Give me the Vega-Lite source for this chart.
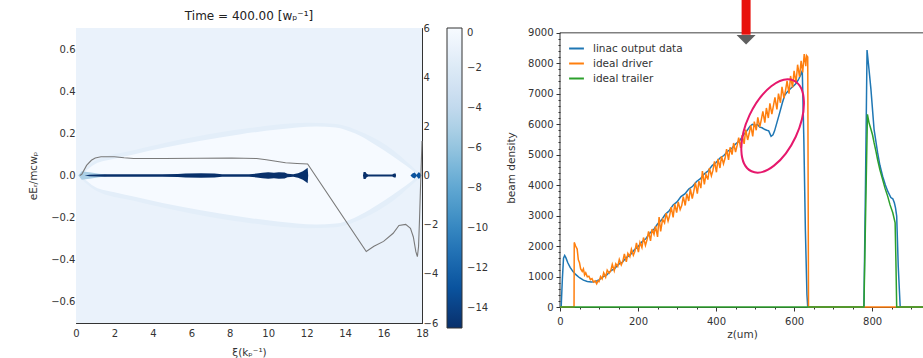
{
  "$schema": "https://vega.github.io/schema/vega-lite/v6.json",
  "padding": {"left": 28, "top": -5, "right": 0, "bottom": 0},
  "background": "white",
  "config": {
    "font": "DejaVu Sans",
    "axis": {"labelFont": "DejaVu Sans", "titleFont": "DejaVu Sans", "labelColor": "#333", "titleColor": "#333", "domainColor": "#333", "tickColor": "#333", "labelFontSize": 10, "titleFontSize": 10.5, "titleFontWeight": "normal", "grid": false, "labelOverlap": false, "tickCount": 100},
    "legend": {"labelFont": "DejaVu Sans", "labelColor": "#333"},
    "title": {"font": "DejaVu Sans", "fontWeight": "normal", "fontSize": 12, "color": "#222"}
  },
  "datasets": {
    "bg": [{"x0": 0, "x1": 18, "y0": -0.7, "y1": 0.7, "n": -1}],
    "sheath": [
      {"xi": 0.2, "top": 0.01, "bot": -0.01, "n": -1.5},
      {"xi": 1, "top": 0.07, "bot": -0.07, "n": -1.5},
      {"xi": 3, "top": 0.12, "bot": -0.12, "n": -1.5},
      {"xi": 6, "top": 0.18, "bot": -0.18, "n": -1.5},
      {"xi": 9, "top": 0.225, "bot": -0.225, "n": -1.5},
      {"xi": 12, "top": 0.25, "bot": -0.25, "n": -1.5},
      {"xi": 13.5, "top": 0.245, "bot": -0.245, "n": -1.5},
      {"xi": 15, "top": 0.2, "bot": -0.2, "n": -1.5},
      {"xi": 16.5, "top": 0.12, "bot": -0.12, "n": -1.5},
      {"xi": 17.4, "top": 0.05, "bot": -0.05, "n": -1.5},
      {"xi": 17.9, "top": 0.008, "bot": -0.008, "n": -1.5}
    ],
    "bubble": [
      {"xi": 0.3, "top": 0.005, "bot": -0.005, "n": -0.1},
      {"xi": 1, "top": 0.055, "bot": -0.055, "n": -0.1},
      {"xi": 2, "top": 0.08, "bot": -0.08, "n": -0.1},
      {"xi": 3, "top": 0.1, "bot": -0.1, "n": -0.1},
      {"xi": 4.5, "top": 0.13, "bot": -0.13, "n": -0.1},
      {"xi": 6.5, "top": 0.165, "bot": -0.165, "n": -0.1},
      {"xi": 8.5, "top": 0.195, "bot": -0.195, "n": -0.1},
      {"xi": 10.5, "top": 0.218, "bot": -0.218, "n": -0.1},
      {"xi": 12.5, "top": 0.232, "bot": -0.232, "n": -0.1},
      {"xi": 13.5, "top": 0.228, "bot": -0.228, "n": -0.1},
      {"xi": 14.5, "top": 0.2, "bot": -0.2, "n": -0.1},
      {"xi": 15.5, "top": 0.15, "bot": -0.15, "n": -0.1},
      {"xi": 16.5, "top": 0.09, "bot": -0.09, "n": -0.1},
      {"xi": 17.2, "top": 0.045, "bot": -0.045, "n": -0.1},
      {"xi": 17.75, "top": 0.006, "bot": -0.006, "n": -0.1}
    ],
    "beams": [
      {"part": "glow", "xi": 0.12, "top": 0, "bot": 0, "n": -5},
      {"part": "glow", "xi": 0.3, "top": 0.02, "bot": -0.02, "n": -5},
      {"part": "glow", "xi": 0.7, "top": 0.016, "bot": -0.016, "n": -5},
      {"part": "glow", "xi": 1.2, "top": 0.008, "bot": -0.008, "n": -5},
      {"part": "glow", "xi": 1.6, "top": 0.003, "bot": -0.003, "n": -5},
      {"part": "driver", "xi": 0.45, "top": 0, "bot": 0, "n": -15},
      {"part": "driver", "xi": 0.7, "top": 0.004, "bot": -0.004, "n": -15},
      {"part": "driver", "xi": 1.5, "top": 0.0055, "bot": -0.0055, "n": -15},
      {"part": "driver", "xi": 3.0, "top": 0.006, "bot": -0.006, "n": -15},
      {"part": "driver", "xi": 4.5, "top": 0.006, "bot": -0.006, "n": -15},
      {"part": "driver", "xi": 5.3, "top": 0.007, "bot": -0.007, "n": -15},
      {"part": "driver", "xi": 5.7, "top": 0.0095, "bot": -0.0095, "n": -15},
      {"part": "driver", "xi": 6.5, "top": 0.0105, "bot": -0.0105, "n": -15},
      {"part": "driver", "xi": 7.2, "top": 0.0095, "bot": -0.0095, "n": -15},
      {"part": "driver", "xi": 7.6, "top": 0.0065, "bot": -0.0065, "n": -15},
      {"part": "driver", "xi": 9.0, "top": 0.0065, "bot": -0.0065, "n": -15},
      {"part": "driver", "xi": 9.4, "top": 0.009, "bot": -0.009, "n": -15},
      {"part": "driver", "xi": 9.7, "top": 0.013, "bot": -0.013, "n": -15},
      {"part": "driver", "xi": 10.0, "top": 0.015, "bot": -0.015, "n": -15},
      {"part": "driver", "xi": 10.3, "top": 0.013, "bot": -0.013, "n": -15},
      {"part": "driver", "xi": 10.55, "top": 0.016, "bot": -0.016, "n": -15},
      {"part": "driver", "xi": 10.85, "top": 0.014, "bot": -0.014, "n": -15},
      {"part": "driver", "xi": 11.0, "top": 0.008, "bot": -0.008, "n": -15},
      {"part": "driver", "xi": 11.3, "top": 0.0065, "bot": -0.0065, "n": -15},
      {"part": "driver", "xi": 11.55, "top": 0.011, "bot": -0.011, "n": -15},
      {"part": "driver", "xi": 11.8, "top": 0.02, "bot": -0.02, "n": -15},
      {"part": "driver", "xi": 11.95, "top": 0.03, "bot": -0.03, "n": -15},
      {"part": "driver", "xi": 12.05, "top": 0.037, "bot": -0.037, "n": -15},
      {"part": "driver", "xi": 12.08, "top": 0, "bot": 0, "n": -15},
      {"part": "trailer", "xi": 14.93, "top": 0, "bot": 0, "n": -15},
      {"part": "trailer", "xi": 14.96, "top": 0.017, "bot": -0.017, "n": -15},
      {"part": "trailer", "xi": 15.06, "top": 0.017, "bot": -0.017, "n": -15},
      {"part": "trailer", "xi": 15.12, "top": 0.008, "bot": -0.008, "n": -15},
      {"part": "trailer", "xi": 15.2, "top": 0.005, "bot": -0.005, "n": -15},
      {"part": "trailer", "xi": 16.45, "top": 0.005, "bot": -0.005, "n": -15},
      {"part": "trailer", "xi": 16.55, "top": 0.01, "bot": -0.01, "n": -15},
      {"part": "trailer", "xi": 16.63, "top": 0.01, "bot": -0.01, "n": -15},
      {"part": "trailer", "xi": 16.65, "top": 0, "bot": 0, "n": -15},
      {"part": "spike", "xi": 17.4, "top": 0, "bot": 0, "n": -13},
      {"part": "spike", "xi": 17.5, "top": 0.01, "bot": -0.01, "n": -13},
      {"part": "spike", "xi": 17.62, "top": 0.014, "bot": -0.014, "n": -13},
      {"part": "spike", "xi": 17.72, "top": 0.004, "bot": -0.004, "n": -13},
      {"part": "spike", "xi": 17.82, "top": 0.016, "bot": -0.016, "n": -13},
      {"part": "spike", "xi": 17.9, "top": 0.012, "bot": -0.012, "n": -13},
      {"part": "spike", "xi": 17.97, "top": 0, "bot": 0, "n": -13}
    ],
    "ez": [
      {"xi": 0.2, "ez": 0}, {"xi": 0.3, "ez": 0.05}, {"xi": 0.55, "ez": 0.41}, {"xi": 0.8, "ez": 0.62},
      {"xi": 1.0, "ez": 0.71}, {"xi": 1.3, "ez": 0.76}, {"xi": 2.0, "ez": 0.76}, {"xi": 2.5, "ez": 0.72},
      {"xi": 3.0, "ez": 0.69}, {"xi": 4.6, "ez": 0.69}, {"xi": 6.4, "ez": 0.7}, {"xi": 8.1, "ez": 0.71},
      {"xi": 9.4, "ez": 0.69}, {"xi": 9.9, "ez": 0.64}, {"xi": 10.4, "ez": 0.58}, {"xi": 10.9, "ez": 0.52},
      {"xi": 11.5, "ez": 0.49}, {"xi": 12.05, "ez": 0.47}, {"xi": 15.1, "ez": -3.09}, {"xi": 15.5, "ez": -2.88},
      {"xi": 16.0, "ez": -2.68}, {"xi": 16.5, "ez": -2.35}, {"xi": 16.8, "ez": -2.03}, {"xi": 17.15, "ez": -1.99},
      {"xi": 17.4, "ez": -2.15}, {"xi": 17.55, "ez": -2.5}, {"xi": 17.68, "ez": -3.1}, {"xi": 17.76, "ez": -3.3},
      {"xi": 17.82, "ez": -2.9}, {"xi": 17.87, "ez": -1.8}, {"xi": 17.93, "ez": -0.3}, {"xi": 18.0, "ez": 1.4}
    ],
    "beam": [
      {"z": 0, "v": 0, "s": "linac output data"}, {"z": 3, "v": 0, "s": "linac output data"}, {"z": 6, "v": 900, "s": "linac output data"},
      {"z": 9, "v": 1600, "s": "linac output data"}, {"z": 12, "v": 1690, "s": "linac output data"}, {"z": 15, "v": 1620, "s": "linac output data"},
      {"z": 20, "v": 1450, "s": "linac output data"}, {"z": 26, "v": 1300, "s": "linac output data"}, {"z": 33, "v": 1170, "s": "linac output data"},
      {"z": 40, "v": 1070, "s": "linac output data"}, {"z": 50, "v": 960, "s": "linac output data"}, {"z": 60, "v": 880, "s": "linac output data"},
      {"z": 70, "v": 840, "s": "linac output data"}, {"z": 80, "v": 820, "s": "linac output data"}, {"z": 88, "v": 830, "s": "linac output data"},
      {"z": 95, "v": 860, "s": "linac output data"}, {"z": 100, "v": 890, "s": "linac output data"}, {"z": 110, "v": 990, "s": "linac output data"},
      {"z": 120, "v": 1050, "s": "linac output data"}, {"z": 130, "v": 1190, "s": "linac output data"}, {"z": 140, "v": 1260, "s": "linac output data"},
      {"z": 150, "v": 1400, "s": "linac output data"}, {"z": 160, "v": 1470, "s": "linac output data"}, {"z": 170, "v": 1620, "s": "linac output data"},
      {"z": 180, "v": 1710, "s": "linac output data"}, {"z": 190, "v": 1870, "s": "linac output data"}, {"z": 200, "v": 1980, "s": "linac output data"},
      {"z": 210, "v": 2140, "s": "linac output data"}, {"z": 220, "v": 2240, "s": "linac output data"}, {"z": 230, "v": 2420, "s": "linac output data"},
      {"z": 240, "v": 2540, "s": "linac output data"}, {"z": 250, "v": 2720, "s": "linac output data"}, {"z": 260, "v": 2850, "s": "linac output data"},
      {"z": 270, "v": 3040, "s": "linac output data"}, {"z": 280, "v": 3160, "s": "linac output data"}, {"z": 290, "v": 3350, "s": "linac output data"},
      {"z": 300, "v": 3450, "s": "linac output data"}, {"z": 310, "v": 3620, "s": "linac output data"}, {"z": 320, "v": 3710, "s": "linac output data"},
      {"z": 330, "v": 3870, "s": "linac output data"}, {"z": 340, "v": 3960, "s": "linac output data"}, {"z": 350, "v": 4120, "s": "linac output data"},
      {"z": 360, "v": 4210, "s": "linac output data"}, {"z": 370, "v": 4370, "s": "linac output data"}, {"z": 380, "v": 4470, "s": "linac output data"},
      {"z": 390, "v": 4640, "s": "linac output data"}, {"z": 400, "v": 4740, "s": "linac output data"}, {"z": 410, "v": 4890, "s": "linac output data"},
      {"z": 420, "v": 4970, "s": "linac output data"}, {"z": 430, "v": 5110, "s": "linac output data"}, {"z": 440, "v": 5200, "s": "linac output data"},
      {"z": 450, "v": 5350, "s": "linac output data"}, {"z": 460, "v": 5450, "s": "linac output data"}, {"z": 470, "v": 5640, "s": "linac output data"},
      {"z": 480, "v": 5800, "s": "linac output data"}, {"z": 487, "v": 5930, "s": "linac output data"}, {"z": 493, "v": 5990, "s": "linac output data"},
      {"z": 500, "v": 5950, "s": "linac output data"}, {"z": 506, "v": 5990, "s": "linac output data"}, {"z": 512, "v": 5900, "s": "linac output data"},
      {"z": 518, "v": 5880, "s": "linac output data"}, {"z": 524, "v": 5830, "s": "linac output data"}, {"z": 530, "v": 5800, "s": "linac output data"},
      {"z": 535, "v": 5780, "s": "linac output data"}, {"z": 541, "v": 5600, "s": "linac output data"}, {"z": 546, "v": 5650, "s": "linac output data"},
      {"z": 550, "v": 5780, "s": "linac output data"}, {"z": 556, "v": 6050, "s": "linac output data"}, {"z": 563, "v": 6370, "s": "linac output data"},
      {"z": 570, "v": 6700, "s": "linac output data"}, {"z": 576, "v": 6950, "s": "linac output data"}, {"z": 582, "v": 7050, "s": "linac output data"},
      {"z": 588, "v": 7130, "s": "linac output data"}, {"z": 594, "v": 7200, "s": "linac output data"}, {"z": 600, "v": 7270, "s": "linac output data"},
      {"z": 606, "v": 7350, "s": "linac output data"}, {"z": 612, "v": 7480, "s": "linac output data"}, {"z": 617, "v": 7620, "s": "linac output data"},
      {"z": 621, "v": 7760, "s": "linac output data"}, {"z": 625, "v": 5500, "s": "linac output data"}, {"z": 629, "v": 2500, "s": "linac output data"},
      {"z": 633, "v": 400, "s": "linac output data"}, {"z": 635, "v": 0, "s": "linac output data"}, {"z": 779, "v": 0, "s": "linac output data"},
      {"z": 783, "v": 4000, "s": "linac output data"}, {"z": 787, "v": 8430, "s": "linac output data"}, {"z": 792, "v": 7800, "s": "linac output data"},
      {"z": 797, "v": 7140, "s": "linac output data"}, {"z": 805, "v": 5830, "s": "linac output data"}, {"z": 814, "v": 5070, "s": "linac output data"},
      {"z": 820, "v": 4650, "s": "linac output data"}, {"z": 827, "v": 4290, "s": "linac output data"}, {"z": 834, "v": 4000, "s": "linac output data"},
      {"z": 840, "v": 3800, "s": "linac output data"}, {"z": 848, "v": 3590, "s": "linac output data"}, {"z": 853, "v": 3550, "s": "linac output data"},
      {"z": 857, "v": 3420, "s": "linac output data"}, {"z": 860, "v": 3250, "s": "linac output data"}, {"z": 863, "v": 2980, "s": "linac output data"},
      {"z": 867, "v": 1330, "s": "linac output data"}, {"z": 872, "v": 0, "s": "linac output data"}, {"z": 933, "v": 0, "s": "linac output data"},

      {"z": 0, "v": 0, "s": "ideal driver"}, {"z": 36, "v": 0, "s": "ideal driver"}, {"z": 36.5, "v": 2120, "s": "ideal driver"},
      {"z": 40, "v": 2000, "s": "ideal driver"}, {"z": 44, "v": 1900, "s": "ideal driver"}, {"z": 47, "v": 1550, "s": "ideal driver"},
      {"z": 50, "v": 1450, "s": "ideal driver"}, {"z": 53, "v": 1250, "s": "ideal driver"}, {"z": 57, "v": 1170, "s": "ideal driver"},
      {"z": 60, "v": 1250, "s": "ideal driver"}, {"z": 63, "v": 1050, "s": "ideal driver"}, {"z": 66, "v": 1120, "s": "ideal driver"},
      {"z": 70, "v": 990, "s": "ideal driver"}, {"z": 74, "v": 1010, "s": "ideal driver"}, {"z": 78, "v": 900, "s": "ideal driver"},
      {"z": 82, "v": 930, "s": "ideal driver"}, {"z": 86, "v": 820, "s": "ideal driver"}, {"z": 90, "v": 860, "s": "ideal driver"},
      {"z": 94, "v": 760, "s": "ideal driver"}, {"z": 97, "v": 850, "s": "ideal driver"}, {"z": 100, "v": 830, "s": "ideal driver"},
      {"z": 104, "v": 1000, "s": "ideal driver"}, {"z": 108, "v": 920, "s": "ideal driver"}, {"z": 112, "v": 1120, "s": "ideal driver"},
      {"z": 117, "v": 980, "s": "ideal driver"}, {"z": 121, "v": 1210, "s": "ideal driver"}, {"z": 126, "v": 1110, "s": "ideal driver"},
      {"z": 130, "v": 1180, "s": "ideal driver"}, {"z": 134, "v": 1400, "s": "ideal driver"}, {"z": 139, "v": 1190, "s": "ideal driver"},
      {"z": 143, "v": 1420, "s": "ideal driver"}, {"z": 148, "v": 1330, "s": "ideal driver"}, {"z": 152, "v": 1560, "s": "ideal driver"},
      {"z": 157, "v": 1380, "s": "ideal driver"}, {"z": 161, "v": 1500, "s": "ideal driver"}, {"z": 165, "v": 1740, "s": "ideal driver"},
      {"z": 170, "v": 1480, "s": "ideal driver"}, {"z": 174, "v": 1760, "s": "ideal driver"}, {"z": 179, "v": 1650, "s": "ideal driver"},
      {"z": 183, "v": 1900, "s": "ideal driver"}, {"z": 188, "v": 1700, "s": "ideal driver"}, {"z": 192, "v": 1830, "s": "ideal driver"},
      {"z": 196, "v": 2100, "s": "ideal driver"}, {"z": 201, "v": 1800, "s": "ideal driver"}, {"z": 205, "v": 2120, "s": "ideal driver"},
      {"z": 210, "v": 1950, "s": "ideal driver"}, {"z": 214, "v": 2280, "s": "ideal driver"}, {"z": 219, "v": 2020, "s": "ideal driver"},
      {"z": 223, "v": 2200, "s": "ideal driver"}, {"z": 227, "v": 2480, "s": "ideal driver"}, {"z": 232, "v": 2170, "s": "ideal driver"},
      {"z": 236, "v": 2560, "s": "ideal driver"}, {"z": 241, "v": 2380, "s": "ideal driver"}, {"z": 245, "v": 2650, "s": "ideal driver"},
      {"z": 250, "v": 2300, "s": "ideal driver"}, {"z": 254, "v": 2950, "s": "ideal driver"}, {"z": 258, "v": 2480, "s": "ideal driver"},
      {"z": 263, "v": 2880, "s": "ideal driver"}, {"z": 268, "v": 2760, "s": "ideal driver"}, {"z": 272, "v": 3080, "s": "ideal driver"},
      {"z": 277, "v": 2820, "s": "ideal driver"}, {"z": 281, "v": 3000, "s": "ideal driver"}, {"z": 285, "v": 3280, "s": "ideal driver"},
      {"z": 290, "v": 2940, "s": "ideal driver"}, {"z": 294, "v": 3380, "s": "ideal driver"}, {"z": 299, "v": 3100, "s": "ideal driver"},
      {"z": 303, "v": 3450, "s": "ideal driver"}, {"z": 308, "v": 3200, "s": "ideal driver"}, {"z": 312, "v": 3330, "s": "ideal driver"},
      {"z": 316, "v": 3620, "s": "ideal driver"}, {"z": 321, "v": 3330, "s": "ideal driver"}, {"z": 325, "v": 3720, "s": "ideal driver"},
      {"z": 330, "v": 3480, "s": "ideal driver"}, {"z": 334, "v": 3880, "s": "ideal driver"}, {"z": 339, "v": 3560, "s": "ideal driver"},
      {"z": 343, "v": 3800, "s": "ideal driver"}, {"z": 347, "v": 4080, "s": "ideal driver"}, {"z": 352, "v": 3720, "s": "ideal driver"},
      {"z": 356, "v": 4130, "s": "ideal driver"}, {"z": 361, "v": 3900, "s": "ideal driver"}, {"z": 365, "v": 4460, "s": "ideal driver"},
      {"z": 370, "v": 4020, "s": "ideal driver"}, {"z": 374, "v": 4350, "s": "ideal driver"}, {"z": 379, "v": 4180, "s": "ideal driver"},
      {"z": 383, "v": 4560, "s": "ideal driver"}, {"z": 388, "v": 4300, "s": "ideal driver"}, {"z": 392, "v": 4480, "s": "ideal driver"},
      {"z": 396, "v": 4780, "s": "ideal driver"}, {"z": 401, "v": 4420, "s": "ideal driver"}, {"z": 405, "v": 4860, "s": "ideal driver"},
      {"z": 410, "v": 4560, "s": "ideal driver"}, {"z": 414, "v": 4950, "s": "ideal driver"}, {"z": 419, "v": 4700, "s": "ideal driver"},
      {"z": 423, "v": 4880, "s": "ideal driver"}, {"z": 427, "v": 5180, "s": "ideal driver"}, {"z": 432, "v": 4830, "s": "ideal driver"},
      {"z": 436, "v": 5240, "s": "ideal driver"}, {"z": 441, "v": 5000, "s": "ideal driver"}, {"z": 445, "v": 5380, "s": "ideal driver"},
      {"z": 450, "v": 5080, "s": "ideal driver"}, {"z": 454, "v": 5300, "s": "ideal driver"}, {"z": 458, "v": 5560, "s": "ideal driver"},
      {"z": 463, "v": 5220, "s": "ideal driver"}, {"z": 467, "v": 5640, "s": "ideal driver"}, {"z": 472, "v": 5350, "s": "ideal driver"},
      {"z": 476, "v": 5820, "s": "ideal driver"}, {"z": 481, "v": 5480, "s": "ideal driver"}, {"z": 485, "v": 5700, "s": "ideal driver"},
      {"z": 489, "v": 5960, "s": "ideal driver"}, {"z": 494, "v": 5600, "s": "ideal driver"}, {"z": 498, "v": 6080, "s": "ideal driver"},
      {"z": 503, "v": 5800, "s": "ideal driver"}, {"z": 507, "v": 6220, "s": "ideal driver"}, {"z": 512, "v": 5900, "s": "ideal driver"},
      {"z": 516, "v": 6150, "s": "ideal driver"}, {"z": 520, "v": 6420, "s": "ideal driver"}, {"z": 525, "v": 6050, "s": "ideal driver"},
      {"z": 529, "v": 6530, "s": "ideal driver"}, {"z": 534, "v": 6200, "s": "ideal driver"}, {"z": 538, "v": 6680, "s": "ideal driver"},
      {"z": 543, "v": 6330, "s": "ideal driver"}, {"z": 547, "v": 6600, "s": "ideal driver"}, {"z": 551, "v": 6880, "s": "ideal driver"},
      {"z": 556, "v": 6480, "s": "ideal driver"}, {"z": 560, "v": 7000, "s": "ideal driver"}, {"z": 565, "v": 6700, "s": "ideal driver"},
      {"z": 569, "v": 7220, "s": "ideal driver"}, {"z": 574, "v": 6850, "s": "ideal driver"}, {"z": 578, "v": 7100, "s": "ideal driver"},
      {"z": 582, "v": 7420, "s": "ideal driver"}, {"z": 587, "v": 7000, "s": "ideal driver"}, {"z": 591, "v": 7580, "s": "ideal driver"},
      {"z": 596, "v": 7200, "s": "ideal driver"}, {"z": 600, "v": 7750, "s": "ideal driver"}, {"z": 605, "v": 7350, "s": "ideal driver"},
      {"z": 609, "v": 7950, "s": "ideal driver"}, {"z": 614, "v": 7550, "s": "ideal driver"}, {"z": 618, "v": 8080, "s": "ideal driver"},
      {"z": 622, "v": 7700, "s": "ideal driver"}, {"z": 626, "v": 8300, "s": "ideal driver"}, {"z": 630, "v": 7900, "s": "ideal driver"},
      {"z": 632, "v": 8250, "s": "ideal driver"}, {"z": 635, "v": 8200, "s": "ideal driver"},
      {"z": 637, "v": 0, "s": "ideal driver"}, {"z": 933, "v": 0, "s": "ideal driver"},

      {"z": 0, "v": 0, "s": "ideal trailer"}, {"z": 779, "v": 0, "s": "ideal trailer"}, {"z": 784, "v": 3500, "s": "ideal trailer"},
      {"z": 788, "v": 6320, "s": "ideal trailer"}, {"z": 792, "v": 6050, "s": "ideal trailer"}, {"z": 797, "v": 5830, "s": "ideal trailer"},
      {"z": 801, "v": 5650, "s": "ideal trailer"}, {"z": 805, "v": 5390, "s": "ideal trailer"}, {"z": 810, "v": 5100, "s": "ideal trailer"},
      {"z": 814, "v": 4840, "s": "ideal trailer"}, {"z": 820, "v": 4500, "s": "ideal trailer"}, {"z": 827, "v": 4180, "s": "ideal trailer"},
      {"z": 833, "v": 3900, "s": "ideal trailer"}, {"z": 840, "v": 3630, "s": "ideal trailer"}, {"z": 846, "v": 3350, "s": "ideal trailer"},
      {"z": 853, "v": 3090, "s": "ideal trailer"}, {"z": 859, "v": 2760, "s": "ideal trailer"}, {"z": 861, "v": 1500, "s": "ideal trailer"},
      {"z": 863, "v": 0, "s": "ideal trailer"}, {"z": 933, "v": 0, "s": "ideal trailer"}
    ],
    "edge": [{"v": 9000}],
    "spine": [{"z": 0, "v0": 0, "v1": 9000}],
    "arrow": [{"z": 477, "top": 10080, "base": 8934}],
    "head": [{"z": 477, "v": 8770}],
    "ring": [{"z": 545, "v": 5940}]
  },
  "spacing": 16,
  "resolve": {"scale": {"color": "independent"}, "legend": {"color": "independent"}},
  "hconcat": [
    {
      "width": 346,
      "height": 295,
      "title": {"text": "Time = 400.00 [wₚ⁻¹]", "offset": 0},
      "view": {"stroke": "#333", "strokeWidth": 1},
      "resolve": {"scale": {"y": "independent"}},
      "layer": [
        {
          "layer": [
            {
              "data": {"name": "bg"},
              "mark": {"type": "rect"},
              "encoding": {
                "x": {"field": "x0", "type": "quantitative", "title": "ξ(kₚ⁻¹)",
                  "scale": {"domain": [0, 18], "nice": false, "zero": false},
                  "axis": {"values": [0, 0.5, 1, 1.5, 2, 2.5, 3, 3.5, 4, 4.5, 5, 5.5, 6, 6.5, 7, 7.5, 8, 8.5, 9, 9.5, 10, 10.5, 11, 11.5, 12, 12.5, 13, 13.5, 14, 14.5, 15, 15.5, 16, 16.5, 17, 17.5, 18],
                    "labelExpr": "datum.value % 2 === 0 ? datum.label : ''", "format": "d",
                    "tickSize": {"condition": {"test": "datum.value % 2 === 0", "value": -4}, "value": -2},
                    "labelPadding": 9, "labelFlush": false, "titlePadding": 7, "domain": false}},
                "x2": {"field": "x1"},
                "y": {"field": "y0", "type": "quantitative", "title": "eEᵣ/mcwₚ",
                  "scale": {"domain": [-0.7, 0.7], "nice": false, "zero": false},
                  "axis": {"values": [-0.7, -0.65, -0.6, -0.55, -0.5, -0.45, -0.4, -0.35, -0.3, -0.25, -0.2, -0.15, -0.1, -0.05, 0, 0.05, 0.1, 0.15, 0.2, 0.25, 0.3, 0.35, 0.4, 0.45, 0.5, 0.55, 0.6, 0.65, 0.7],
                    "labelExpr": "abs(datum.value * 5 - round(datum.value * 5)) < 0.001 ? datum.label : ''", "format": ".1f",
                    "tickSize": {"condition": {"test": "abs(datum.value * 5 - round(datum.value * 5)) < 0.001", "value": -4}, "value": -2},
                    "labelPadding": 5, "labelFlush": false, "titlePadding": 12, "domain": false}},
                "y2": {"field": "y1"},
                "color": {"field": "n", "type": "quantitative",
                  "scale": {"type": "linear", "domain": [-15, -13.125, -11.25, -9.375, -7.5, -5.625, -3.75, -1.875, 0],
                    "range": ["#08306b", "#08519c", "#2171b5", "#4292c6", "#6baed6", "#9ecae1", "#c6dbef", "#deebf7", "#f7fbff"]},
                  "legend": {"title": null, "orient": "right", "offset": 9, "direction": "vertical", "gradientLength": 300, "gradientThickness": 15,
                    "values": [0, -2, -4, -6, -8, -10, -12, -14], "labelFontSize": 10, "labelOffset": 5,
                    "gradientStrokeColor": "#333", "gradientStrokeWidth": 1}}
              }
            },
            {
              "data": {"name": "sheath"},
              "mark": {"type": "area", "interpolate": "monotone"},
              "encoding": {
                "x": {"field": "xi", "type": "quantitative"},
                "y": {"field": "top", "type": "quantitative"},
                "y2": {"field": "bot"},
                "color": {"field": "n", "type": "quantitative"}
              }
            },
            {
              "data": {"name": "bubble"},
              "mark": {"type": "area", "interpolate": "monotone"},
              "encoding": {
                "x": {"field": "xi", "type": "quantitative"},
                "y": {"field": "top", "type": "quantitative"},
                "y2": {"field": "bot"},
                "color": {"field": "n", "type": "quantitative"}
              }
            },
            {
              "data": {"name": "beams"},
              "mark": {"type": "area"},
              "encoding": {
                "x": {"field": "xi", "type": "quantitative"},
                "y": {"field": "top", "type": "quantitative"},
                "y2": {"field": "bot"},
                "detail": {"field": "part", "type": "nominal"},
                "color": {"field": "n", "type": "quantitative"}
              }
            }
          ]
        },
        {
          "data": {"name": "ez"},
          "mark": {"type": "line", "color": "#7a7a7a", "strokeWidth": 1.1},
          "encoding": {
            "x": {"field": "xi", "type": "quantitative"},
            "y": {"field": "ez", "type": "quantitative", "title": null,
              "scale": {"domain": [-6, 6], "nice": false, "zero": false},
              "axis": {"orient": "right", "values": [-6, -5.5, -5, -4.5, -4, -3.5, -3, -2.5, -2, -1.5, -1, -0.5, 0, 0.5, 1, 1.5, 2, 2.5, 3, 3.5, 4, 4.5, 5, 5.5, 6],
                "labelExpr": "datum.value % 2 === 0 ? datum.label : ''", "format": "d",
                "tickSize": {"condition": {"test": "datum.value % 2 === 0", "value": -4}, "value": -2},
                "labelPadding": 5, "labelFlush": false, "domain": false}}
          }
        }
      ]
    },
    {
      "width": 364,
      "height": 279,
      "view": {"stroke": null},
      "layer": [
        {
          "data": {"name": "edge"},
          "mark": {"type": "rule", "color": "#808080", "strokeWidth": 1.5},
          "encoding": {"y": {"field": "v", "type": "quantitative"}}
        },
        {
          "data": {"name": "spine"},
          "mark": {"type": "rule", "color": "#333", "strokeWidth": 1},
          "encoding": {
            "x": {"field": "z", "type": "quantitative"},
            "y": {"field": "v0", "type": "quantitative"},
            "y2": {"field": "v1"}
          }
        },
        {
          "data": {"name": "beam"},
          "transform": [{"filter": "datum.s === 'linac output data'"}],
          "mark": {"type": "line", "strokeWidth": 1.5},
          "encoding": {
            "x": {"field": "z", "type": "quantitative", "title": "z(um)",
              "scale": {"domain": [0, 933], "nice": false, "zero": false},
              "axis": {"values": [0, 50, 100, 150, 200, 250, 300, 350, 400, 450, 500, 550, 600, 650, 700, 750, 800, 850, 900],
                "labelExpr": "datum.value % 200 === 0 ? datum.label : ''", "format": "d",
                "tickSize": {"condition": {"test": "datum.value % 200 === 0", "value": 4}, "value": 2},
                "labelPadding": 5, "labelFlush": false, "titlePadding": 3}},
            "y": {"field": "v", "type": "quantitative", "title": "beam density",
              "scale": {"domain": [0, 9154], "nice": false, "zero": true},
              "axis": {"values": [0, 200, 400, 600, 800, 1000, 1200, 1400, 1600, 1800, 2000, 2200, 2400, 2600, 2800, 3000, 3200, 3400, 3600, 3800, 4000, 4200, 4400, 4600, 4800, 5000, 5200, 5400, 5600, 5800, 6000, 6200, 6400, 6600, 6800, 7000, 7200, 7400, 7600, 7800, 8000, 8200, 8400, 8600, 8800, 9000],
                "labelExpr": "datum.value % 1000 === 0 ? datum.label : ''", "format": "d",
                "tickSize": {"condition": {"test": "datum.value % 1000 === 0", "value": 4}, "value": 2},
                "labelPadding": 3, "labelFlush": false, "titlePadding": 11, "domain": false}},
            "color": {"field": "s", "type": "nominal",
              "scale": {"domain": ["linac output data", "ideal driver", "ideal trailer"], "range": ["#1f77b4", "#ff7f0e", "#2ca02c"]},
              "legend": {"title": null, "orient": "none", "legendX": 8, "legendY": 12, "symbolType": "stroke", "symbolStrokeWidth": 2, "symbolSize": 220,
                "labelFontSize": 10.5, "labelOffset": 8, "rowPadding": 1, "padding": 0}}
          }
        },
        {
          "data": {"name": "beam"},
          "transform": [{"filter": "datum.s === 'ideal driver'"}],
          "mark": {"type": "line", "strokeWidth": 1.5},
          "encoding": {
            "x": {"field": "z", "type": "quantitative"},
            "y": {"field": "v", "type": "quantitative"},
            "color": {"field": "s", "type": "nominal"}
          }
        },
        {
          "data": {"name": "beam"},
          "transform": [{"filter": "datum.s === 'ideal trailer'"}],
          "mark": {"type": "line", "strokeWidth": 1.5},
          "encoding": {
            "x": {"field": "z", "type": "quantitative"},
            "y": {"field": "v", "type": "quantitative"},
            "color": {"field": "s", "type": "nominal"}
          }
        },
        {
          "data": {"name": "ring"},
          "mark": {"type": "point", "shape": "M 0 -1 A 0.51 1 0 1 1 0 1 A 0.51 1 0 1 1 0 -1 Z", "size": 10000, "angle": 25, "filled": false, "stroke": "#e6186c", "strokeWidth": 2, "opacity": 1},
          "encoding": {
            "x": {"field": "z", "type": "quantitative"},
            "y": {"field": "v", "type": "quantitative"}
          }
        },
        {
          "data": {"name": "arrow"},
          "mark": {"type": "rule", "color": "#e8120c", "strokeWidth": 9, "strokeCap": "butt"},
          "encoding": {
            "x": {"field": "z", "type": "quantitative"},
            "y": {"field": "top", "type": "quantitative"},
            "y2": {"field": "base"}
          }
        },
        {
          "data": {"name": "head"},
          "mark": {"type": "point", "shape": "M -1 -0.5 L 1 -0.5 L 0 0.5 Z", "size": 361, "filled": true, "color": "#5f5f5f", "opacity": 1},
          "encoding": {
            "x": {"field": "z", "type": "quantitative"},
            "y": {"field": "v", "type": "quantitative"}
          }
        }
      ]
    }
  ]
}
